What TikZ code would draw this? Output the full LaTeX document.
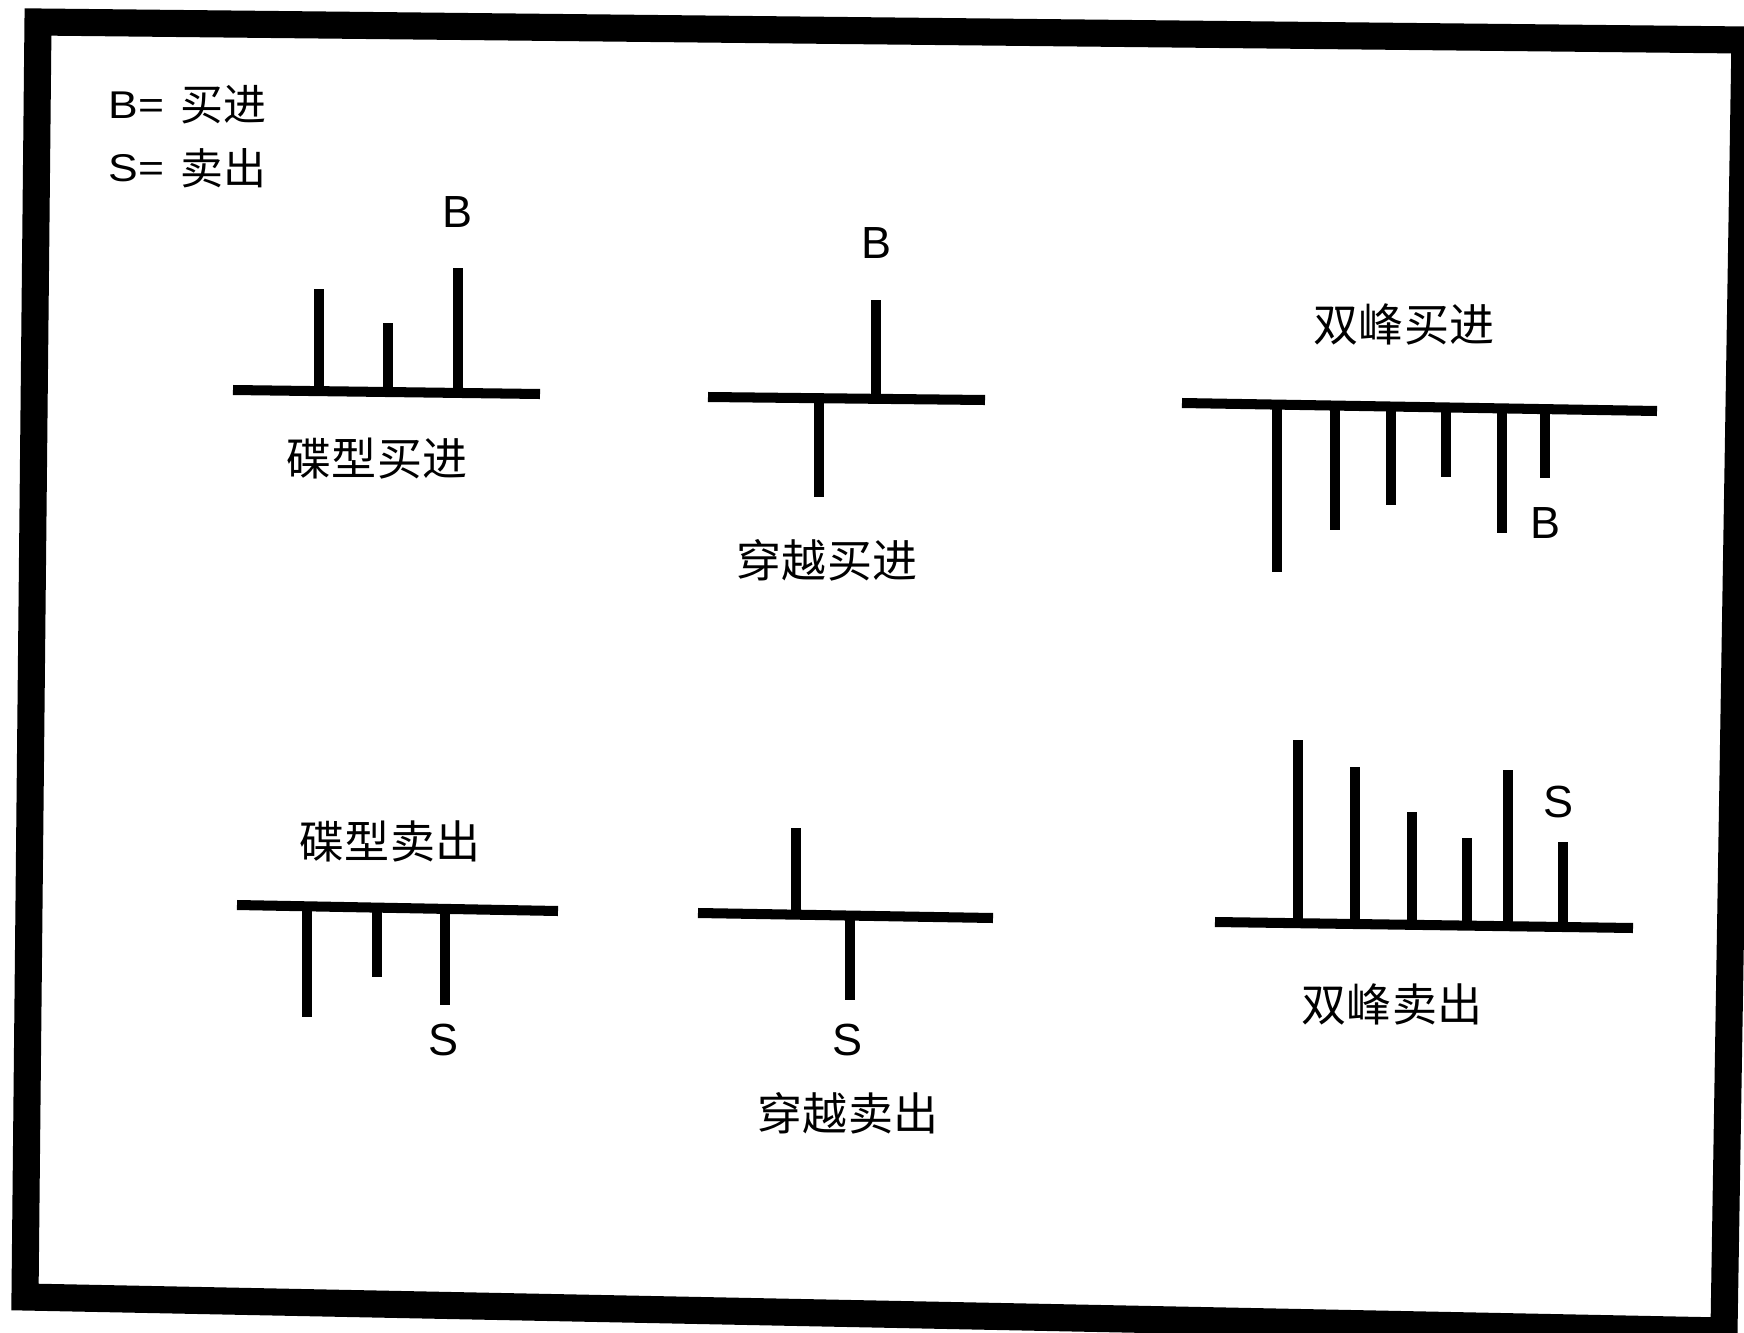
\documentclass[tikz,border=0pt]{standalone}
\usepackage{fontspec}
\setmainfont{Liberation Sans}
\newfontfamily\cjk{Noto Sans CJK SC}
\begin{document}
\begin{tikzpicture}[x=0.01cm,y=-0.01cm,
  stroke/.style={line width=2.85pt, line cap=butt},
  frame/.style={line width=7.7pt, line join=miter},
  letter/.style={inner sep=0pt, font=\fontsize{12.8pt}{14pt}\selectfont},
  cjklabel/.style={inner sep=0pt, font=\cjk\fontsize{12.8pt}{14pt}\selectfont},
  legendlatin/.style={inner sep=0pt, anchor=west, font=\fontsize{11pt}{12pt}\selectfont},
  legendcjk/.style={inner sep=0pt, anchor=west, font=\cjk\fontsize{12.2pt}{14pt}\selectfont},
]
\useasboundingbox (0,0) rectangle (1744,1333);
\fill[white] (0,0) rectangle (1744,1333);
% outer frame
\draw[frame] (38,22) -- (1745,40) -- (1724,1331) -- (25,1297) -- cycle;

% legend
\node[legendlatin] (legB) at (108,105) {\scalebox{1.15}[1]{B=}};
\node[legendcjk] (legBt) at (180,105) {买进};
\node[legendlatin] (legS) at (108,168) {\scalebox{1.15}[1]{S=}};
\node[legendcjk] (legSt) at (180,168) {卖出};

% chart 1: 碟型买进
\draw[stroke] (233,390) -- (540,394);
\draw[stroke] (319,391) -- (319,289);
\draw[stroke] (388,392) -- (388,323);
\draw[stroke] (458,393) -- (458,268);
\node[letter] (b1) at (458,212) {B};
\node[cjklabel] (t1) at (377,459) {碟型买进};

% chart 2: 穿越买进
\draw[stroke] (708,397) -- (985,400);
\draw[stroke] (876,399) -- (876,300);
\draw[stroke] (819,398) -- (819,497);
\node[letter] (b2) at (877,243) {B};
\node[cjklabel] (t2) at (827,560) {穿越买进};

% chart 3: 双峰买进
\draw[stroke] (1182,403) -- (1657,411);
\draw[stroke] (1277,404) -- (1277,572);
\draw[stroke] (1335,405) -- (1335,530);
\draw[stroke] (1391,406) -- (1391,505);
\draw[stroke] (1446,407) -- (1446,477);
\draw[stroke] (1502,408) -- (1502,533);
\draw[stroke] (1545,409) -- (1545,478);
\node[letter] (b3) at (1546,523) {B};
\node[cjklabel] (t3) at (1404,324) {双峰买进};

% chart 4: 碟型卖出
\draw[stroke] (237,905) -- (558,911);
\draw[stroke] (307,906) -- (307,1017);
\draw[stroke] (377,907) -- (377,977);
\draw[stroke] (445,908) -- (445,1005);
\node[letter] (s4) at (444,1040) {S};
\node[cjklabel] (t4) at (390,841) {碟型卖出};

% chart 5: 穿越卖出
\draw[stroke] (698,913) -- (993,918);
\draw[stroke] (796,915) -- (796,828);
\draw[stroke] (850,916) -- (850,1000);
\node[letter] (s5) at (848,1040) {S};
\node[cjklabel] (t5) at (848,1113) {穿越卖出};

% chart 6: 双峰卖出
\draw[stroke] (1215,922) -- (1633,928);
\draw[stroke] (1298,923) -- (1298,740);
\draw[stroke] (1355,924) -- (1355,767);
\draw[stroke] (1412,925) -- (1412,812);
\draw[stroke] (1467,925) -- (1467,838);
\draw[stroke] (1508,926) -- (1508,770);
\draw[stroke] (1563,927) -- (1563,842);
\node[letter] (s6) at (1559,802) {S};
\node[cjklabel] (t6) at (1392,1004) {双峰卖出};
\end{tikzpicture}
\end{document}
